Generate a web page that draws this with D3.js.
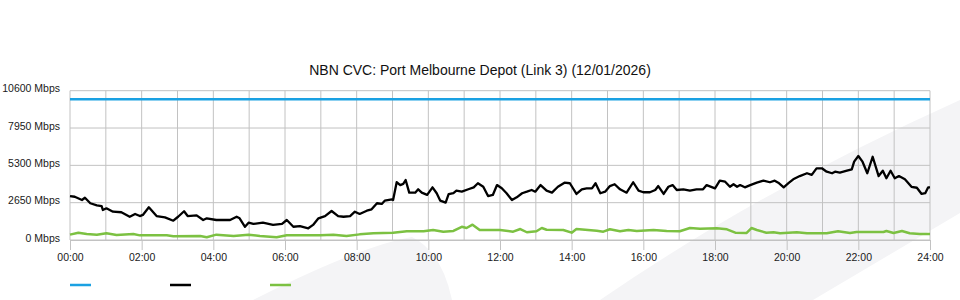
<!DOCTYPE html>
<html>
<head>
<meta charset="utf-8">
<title>NBN CVC</title>
<script src="https://d3js.org/d3.v7.min.js"></script>
<style>
  body { margin: 0; background: #fff; }
  text { font-family: "Liberation Sans", Arial, sans-serif; }
</style>
</head>
<body>
<svg id="chart"></svg>
<script>
// chart data (time in minutes since 00:00, values in Mbps)
var title = "NBN CVC: Port Melbourne Depot (Link 3) (12/01/2026)";
var yTicks = [0, 2650, 5300, 7950, 10600];
var xLabelTicks = [0, 120, 240, 360, 480, 600, 720, 840, 960, 1080, 1200, 1320, 1440];

var capMin = [0, 1440];
var capMbps = [10000, 10000];

var totalMin = [0, 8, 20, 25, 34, 45, 53, 55, 61, 72, 86, 100, 109, 117, 122, 132, 145, 159, 173, 181,
  191, 197, 212, 223, 229, 245, 268, 279, 284, 293, 299, 307, 323, 340, 355, 363, 374, 385, 399, 407,
  416, 427, 438, 449, 458, 469, 477, 485, 497, 505, 514, 522, 527, 539, 541, 547, 553, 558, 562, 568,
  578, 583, 589, 598, 607, 614, 620, 629, 634, 642, 647, 656, 667, 676, 683, 692, 700, 708, 715, 723,
  731, 740, 748, 757, 765, 773, 779, 788, 798, 807, 817, 828, 837, 848, 857, 865, 874, 880, 888, 896,
  904, 912, 921, 932, 943, 952, 960, 971, 980, 985, 994, 1002, 1009, 1016, 1027, 1038, 1049, 1060, 1066, 1080,
  1088, 1097, 1105, 1111, 1117, 1122, 1130, 1139, 1150, 1161, 1172, 1180, 1186, 1195, 1203, 1211, 1222, 1234, 1242, 1250,
  1259, 1267, 1276, 1281, 1289, 1301, 1309, 1313, 1320, 1327, 1335, 1344, 1354, 1361, 1367, 1374, 1381, 1388, 1398, 1409,
  1418, 1426, 1432, 1437, 1440];
var totalMbps = [3120, 3070, 2840, 3000, 2610, 2460, 2410, 2130, 2250, 2010, 1970, 1650, 1850, 1700, 1780, 2320, 1700, 1610, 1370, 1650,
  2040, 1700, 1750, 1420, 1540, 1420, 1420, 1650, 1540, 940, 1230, 1140, 1230, 1070, 1140, 1420, 940, 990, 830, 1070,
  1540, 1700, 2060, 1700, 1650, 1700, 2010, 1850, 2080, 2180, 2610, 2560, 2790, 2890, 2840, 4100, 3900, 3980, 4260, 3360,
  3360, 3600, 3360, 3200, 3740, 3320, 2790, 2650, 3250, 3320, 3500, 3430, 3600, 3740, 4030, 3780, 3120, 3200, 3900, 3670,
  3320, 2840, 3030, 3320, 3430, 3550, 3430, 3900, 3500, 3360, 3780, 4070, 4030, 3270, 3600, 3670, 3670, 4030, 3320, 3430,
  3830, 3960, 3600, 3360, 4100, 3500, 3390, 3390, 3550, 3830, 3270, 3780, 3900, 3550, 3600, 3500, 3600, 3600, 3900, 3670,
  4210, 4140, 3780, 3960, 3780, 3900, 3740, 3900, 4070, 4210, 4100, 4210, 4070, 3740, 4030, 4310, 4540, 4740, 4620, 5090,
  5090, 4850, 4740, 4850, 4780, 4920, 5020, 5560, 5960, 5560, 4740, 5910, 4540, 4920, 4380, 4920, 4380, 4540, 4310, 3780,
  3710, 3270, 3320, 3740, 3740];

var lowMin = [0, 14, 28, 45, 61, 78, 106, 117, 162, 173, 218, 229, 245, 274, 299, 318, 346, 363, 419, 441,
  463, 485, 508, 541, 564, 592, 608, 625, 642, 656, 664, 674, 686, 720, 742, 754, 765, 781, 790, 798,
  826, 840, 848, 882, 893, 904, 921, 935, 949, 977, 999, 1021, 1038, 1055, 1083, 1100, 1114, 1133, 1141, 1150,
  1166, 1178, 1189, 1217, 1234, 1267, 1286, 1306, 1317, 1362, 1367, 1379, 1393, 1406, 1423, 1440];
var lowMbps = [380, 520, 430, 380, 480, 360, 430, 330, 330, 260, 280, 190, 380, 280, 380, 280, 190, 330, 330, 380,
  280, 400, 480, 520, 620, 620, 710, 590, 640, 940, 850, 1090, 710, 710, 590, 780, 550, 620, 850, 730,
  710, 520, 780, 660, 590, 760, 620, 710, 640, 710, 640, 620, 850, 800, 830, 760, 520, 500, 850, 710,
  520, 550, 480, 550, 480, 480, 620, 500, 570, 570, 640, 500, 640, 480, 430, 430];

var W = 960, H = 300;

var svg = d3.select("#chart").attr("width", W).attr("height", H);

// background decoration
var bg = svg.append("g").attr("fill", "#f4f4f6");
bg.append("path").attr("d", "M253,300 Q360,246 412,237 Q442,252 452,300 Z");
bg.append("path").attr("d", "M600,300 Q760,190 960,100 L960,213 L813,300 Z");

var x = d3.scaleLinear().domain([0, 1440]).range([70, 930]);
var y = d3.scaleLinear().domain([0, 10600]).range([240, 90.7]);

// title
svg.append("text")
  .attr("x", 480).attr("y", 75)
  .attr("text-anchor", "middle")
  .attr("font-size", 14)
  .attr("fill", "#111")
  .text(title);

// grid
var grid = svg.append("g").attr("stroke", "#c2c2c2").attr("stroke-width", 1);
grid.selectAll(".h").data(yTicks).enter().append("line")
  .attr("x1", x(0)).attr("x2", x(1440))
  .attr("y1", d => y(d)).attr("y2", d => y(d));
grid.selectAll(".v").data(d3.range(0, 1441, 60)).enter().append("line")
  .attr("x1", d => x(d)).attr("x2", d => x(d))
  .attr("y1", y(10600)).attr("y2", y(0));

// y labels
svg.append("g").selectAll("text").data(yTicks).enter().append("text")
  .attr("x", 60).attr("y", d => y(d) - 2)
  .attr("dy", "0.35em")
  .attr("text-anchor", "end")
  .attr("font-size", 10.5)
  .attr("fill", "#1a1a1a")
  .text(d => d + " Mbps");

// x axis
var xAxis = svg.append("g")
  .attr("transform", "translate(0," + y(0) + ")")
  .call(d3.axisBottom(x).tickValues(xLabelTicks).tickSize(10).tickPadding(4)
    .tickFormat(d => d3.format("02")(d / 60) + ":00"));
xAxis.select(".domain").attr("stroke", "#c2c2c2");
xAxis.selectAll(".tick line").attr("stroke", "#c2c2c2");
xAxis.selectAll("text")
  .attr("font-family", "Liberation Sans, Arial, sans-serif")
  .attr("font-size", 10.5)
  .attr("fill", "#1a1a1a");

// lines
var line = d3.line().x(d => x(d[0])).y(d => y(d[1]));
function pairs(a, b) { return a.map((m, i) => [m, b[i]]); }

svg.append("path").datum(pairs(lowMin, lowMbps))
  .attr("fill", "none").attr("stroke", "#7cc142").attr("stroke-width", 2.5)
  .attr("stroke-linejoin", "round").attr("d", line);
svg.append("path").datum(pairs(totalMin, totalMbps))
  .attr("fill", "none").attr("stroke", "#000").attr("stroke-width", 2.3)
  .attr("stroke-linejoin", "round").attr("d", line);
svg.append("path").datum(pairs(capMin, capMbps))
  .attr("fill", "none").attr("stroke", "#1ba1e2").attr("stroke-width", 2.5)
  .attr("d", line);

// legend
var legendColors = ["#1ba1e2", "#000", "#7cc142"];
svg.append("g").selectAll("line").data(legendColors).enter().append("line")
  .attr("x1", (d, i) => 70 + i * 100).attr("x2", (d, i) => 91 + i * 100)
  .attr("y1", 285).attr("y2", 285)
  .attr("stroke", d => d).attr("stroke-width", 2.5);
</script>
</body>
</html>
